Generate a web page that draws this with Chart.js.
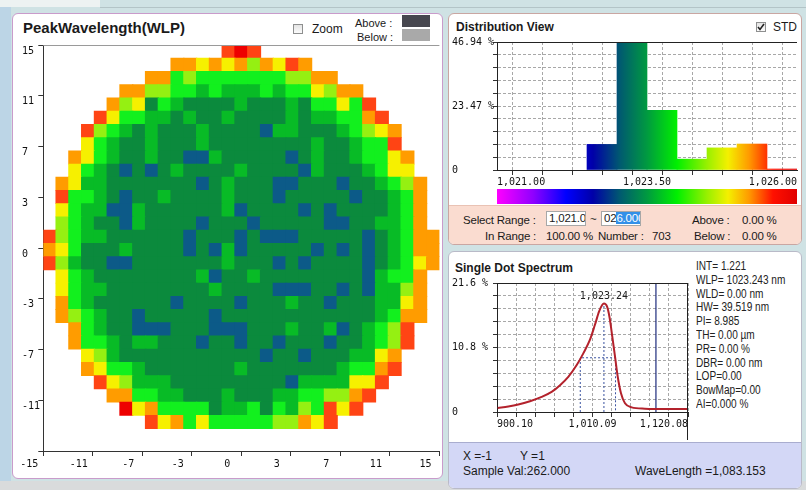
<!DOCTYPE html>
<html>
<head>
<meta charset="utf-8">
<title>PeakWavelength(WLP)</title>
<script src="https://cdn.jsdelivr.net/npm/chart.js@4.4.1/dist/chart.umd.min.js"></script>
<style>
    * { box-sizing: border-box; }
    body {
        margin: 0; width: 806px; height: 490px; position: relative; overflow: hidden;
        background: #cfe2e4; color: #1a1a1a;
        font-family: "Liberation Sans", Arial, sans-serif; font-size: 12px;
    }
    .abs { position: absolute; white-space: nowrap; line-height: 14px; }
    .bold { font-weight: bold; }
    .small { font-size: 11px; }
    .narrow { font-size: 11.5px; letter-spacing: -0.2px; }
    .panel { position: absolute; background: #fff; border-radius: 6px; overflow: hidden; }
    #left-panel { left: 12px; top: 13px; width: 431px; height: 466px; border: 1.5px solid #c99bcb; }
    #dist-panel { left: 448px; top: 13px; width: 354px; height: 232px; border: 1px solid #c9a6a2; }
    #spec-panel { left: 448px; top: 251px; width: 354px; height: 238px; border: 1px solid #b9bac8; }
    #dist-panel .foot { position: absolute; left: 0; right: 0; top: 191px; bottom: 0; background: #fadcd0; border-top: 1px solid #e9c2b4; }
    #spec-panel .foot { position: absolute; left: 0; right: 0; top: 190px; bottom: 0; background: #d3d7f6; border-top: 1px solid #a9adcf; }
    canvas { position: absolute; }
    .box { position: absolute; width: 10px; height: 10px; border: 1px solid #8e8f8f; background: linear-gradient(#e4e4e4, #fbfbfb); }
    .swatch { position: absolute; width: 28px; height: 12px; }
    .field { position: absolute; height: 15px; width: 40px; background: #fff; border: 1px solid #a7a7a7; overflow: hidden; padding-left: 2px; line-height: 13px; white-space: nowrap; font-size: 11.5px; letter-spacing: -0.2px; }
    .field .sel { background: #3390e8; color: #fff; }
    #colorBar { position: absolute; left: 497px; top: 189px; width: 300px; height: 15px; }
    #info {
        position: absolute; left: 696px; top: 260px; line-height: 13.8px; white-space: nowrap;
        font-size: 12px; color: #222; transform: scaleX(0.84); transform-origin: 0 0;
    }
</style>
</head>
<body>
<div class="abs" style="left:0;top:0;width:11px;height:490px;background:#bcd5e6"></div>
<div class="abs" style="left:0;top:0;width:100px;height:7px;background:#edf2f2"></div>
<div class="abs" style="left:100px;top:7px;width:706px;height:1px;background:#b3c4c7"></div>
<div class="abs" style="left:0;top:481px;width:806px;height:9px;background:#d9dbdc"></div>

<div class="panel" id="left-panel"></div>
<div class="panel" id="dist-panel"><div class="foot"></div></div>
<div class="panel" id="spec-panel"><div class="foot"></div></div>

<!-- wafer map header -->
<div class="abs bold" style="left:23px;top:19px;font-size:15px;line-height:18px">PeakWavelength(WLP)</div>
<div class="box" style="left:293px;top:24px"></div>
<div class="abs" style="left:312px;top:22px">Zoom</div>
<div class="abs small" style="left:355px;top:16px">Above :</div>
<div class="abs small" style="left:357px;top:30px">Below :</div>
<div class="swatch" style="left:402px;top:15px;background:#46464e"></div>
<div class="swatch" style="left:402px;top:29px;background:#a9a9a9"></div>

<!-- distribution header and range info -->
<div class="abs bold" style="left:456px;top:20px">Distribution View</div>
<div class="box" style="left:756px;top:22px">
    <svg width="8" height="8" style="position:absolute;left:0;top:0"><polyline points="1,4 3,6.5 7,1" fill="none" stroke="#222" stroke-width="1.6"/></svg>
</div>
<div class="abs" style="left:773px;top:20px">STD</div>
<div id="colorBar"></div>

<div class="abs narrow" style="left:463px;top:213px">Select Range :</div>
<div class="field" style="left:546px;top:211px">1,021.00</div>
<div class="abs narrow" style="left:590px;top:212px">~</div>
<div class="field" style="left:601px;top:211px">02<span class="sel">6.000</span></div>
<div class="abs narrow" style="left:692px;top:213px">Above :</div>
<div class="abs narrow" style="left:742px;top:213px">0.00 %</div>
<div class="abs narrow" style="left:485px;top:229px">In Range :</div>
<div class="abs narrow" style="left:546px;top:229px">100.00 %</div>
<div class="abs narrow" style="left:598px;top:229px">Number :</div>
<div class="abs narrow" style="left:652px;top:229px">703</div>
<div class="abs narrow" style="left:694px;top:229px">Below :</div>
<div class="abs narrow" style="left:742px;top:229px">0.00 %</div>

<!-- spectrum header, readout and footer -->
<div class="abs bold" style="left:455px;top:261px">Single Dot Spectrum</div>
<div id="info">
    INT= 1.221<br>WLP= 1023.243 nm<br>WLD= 0.00 nm<br>HW= 39.519 nm<br>PI= 8.985<br>TH= 0.00 µm<br>
    PR= 0.00 %<br>DBR= 0.00 nm<br>LOP=0.00<br>BowMap=0.00<br>AI=0.000 %
</div>
<div class="abs" style="left:463px;top:449px">X =-1</div>
<div class="abs" style="left:520px;top:449px">Y =1</div>
<div class="abs" style="left:463px;top:464px">Sample Val:262.000</div>
<div class="abs" style="left:635px;top:464px">WaveLength =1,083.153</div>

<canvas id="waferChart" width="428" height="437" style="left:14px;top:42px"></canvas>
<canvas id="histChart" width="352" height="156" style="left:449px;top:34px"></canvas>
<canvas id="specChart" width="246" height="164" style="left:449px;top:276px"></canvas>

<script>
// wafer map, one character per die (top row first); '.' = no die
const waferRows = [
    '..............rRr..............',
    '..........ooyoyoloyro..........',
    '........ooglggggggglloo........',
    '......oollggmgmmmgmggyloo......',
    '.....olydgmddddmdddmdggygr.....',
    '....ryggmmdmddmddddmdmmggor....',
    '...rlgmdmdddmddddbmmdddmglyo...',
    '...ygmddmdddmddddddddmddmggr...',
    '..oygmddmddbbmdddddbdmddmggyo..',
    '..ygmdbdbdmddddmddddbmdddmgyy..',
    '.oymmdddddddbdmdddbbdddbddmglo.',
    '.rggmdbddmddddmdddbdddddbddmgo.',
    '.ygmmbbmddddddmbddddbdbddddmgo.',
    '.lgmddbmddddbdddbdddddbbddmmgo.',
    'rlgmmddddddbdddbdbbbdddddbdmgoo',
    'oygdddmddddbdbmbdddddbdbdbdmgoo',
    'rlmddbbdddddddmdddbdbddddbdmgyo',
    '.ygmddddddddmbddmddddddddbmggo.',
    '.ygmmddddddddmddddbbbddbdbmmlo.',
    '.ogmddddddbddddbdddmddbdddmmyo.',
    '.olgmddbdddddbddddddddddddmgoo.',
    '..ogmddbbbdddbbbdddmddmbdmglr..',
    '..oggmdmmdddbddbddbdddbddmglr..',
    '...ylmdddddddddddbddbdddmmyo...',
    '...oyggmdddddddmdddddddmggor...',
    '....rylmmmdddddddddbmmmmyyr....',
    '.....ooggmmdddmdddmmggllor.....',
    '......Ryoggggdmmgdgmlgryr......',
    '........ryogyggggglloyr........'
];
const waferRowSpan = 30.7;       // plot height in die rows
const waferAxisRange = [-15, 15];
const waferTickStep = 3.75;

// distribution of WLP, percent of 703 dies per 0.5 nm bin
const histBinStart = [1022.5, 1023.0, 1023.5, 1024.0, 1024.5, 1025.0, 1025.5];
const histPercent = [9.39, 46.94, 21.91, 3.98, 8.11, 9.53, 0.14];
const histBinWidth = 0.5;
const histRange = [1021, 1026];
const histXLabels = [1021, 1023.5, 1026];
const histYMax = 46.94;
const histYLabels = ['0', '23.47 %', '46.94 %'];

// single dot spectrum
const specWave = [900.9, 913.1, 924.6, 938.1, 951.5, 963.0, 972.7, 982.2, 991.9, 999.5, 1007.2, 1012.9, 1017.6,
    1021.4, 1023.24, 1026.8, 1029.9, 1032.9, 1036.0, 1039.1, 1042.9, 1047.5, 1055.2, 1070.5, 1093.6, 1118.9];
const specValue = [0.67, 0.91, 1.24, 1.80, 2.52, 3.36, 4.49, 5.89, 7.86, 9.82, 12.1, 14.6, 16.8,
    17.95, 18.17, 17.67, 15.7, 12.6, 9.3, 5.94, 3.14, 1.46, 0.78, 0.56, 0.50, 0.50];
const specRange = [900.10, 1120.08];
const specYMax = 21.6;
const specYLabels = ['0', '10.8 %', '21.6 %'];
const peakWave = 1023.24;
const peakValue = 18.17;
const halfWidth = [996.0, 1036.6];
const halfLevel = 9.08;
const cursorWave = 1083.153;

const levelColors = {
    R: '#ee0000', r: '#ff4414', o: '#ff9c00', y: '#f6f000', l: '#95f012',
    g: '#12f01e', m: '#08bb26', d: '#0b8a3d', b: '#0c5a88'
};
const colorStops = [
    [0.00, '#ff00ff'], [0.12, '#9000ff'], [0.23, '#0000ff'], [0.32, '#0000a8'],
    [0.41, '#005a70'], [0.50, '#009a40'], [0.60, '#00f000'], [0.70, '#98f000'],
    [0.77, '#f4f000'], [0.84, '#ff9a00'], [0.92, '#ff1000'], [1.00, '#e00000']
];

Chart.defaults.font.family = '"DejaVu Sans Mono", monospace';
Chart.defaults.font.size = 10;
Chart.defaults.color = '#111';

document.getElementById('colorBar').style.background =
    'linear-gradient(to right, ' + colorStops.map(([f, c]) => c + ' ' + (f * 100) + '%').join(', ') + ')';

const fmt = v => v.toLocaleString('en-US', { minimumFractionDigits: 2, maximumFractionDigits: 2 });

function fitBox(width, height) {
    return scale => {
        if (width != null) scale.width = width;
        if (height != null) scale.height = height;
        scale.paddingLeft = scale.paddingRight = scale.paddingTop = scale.paddingBottom = 0;
    };
}

function evenTicks(min, max, count) {
    return scale => {
        scale.ticks = Array.from({ length: count + 1 }, (_, i) => ({ value: +(min + (max - min) * i / count).toFixed(4) }));
    };
}

const framePlugin = {
    id: 'frame',
    afterDraw(chart, args, opts) {
        const { ctx, chartArea: a } = chart;
        ctx.save();
        ctx.strokeStyle = opts.color;
        ctx.lineWidth = 1;
        ctx.beginPath();
        if (opts.top) { ctx.moveTo(a.left, a.top + 0.5); ctx.lineTo(a.right, a.top + 0.5); }
        if (opts.right) { ctx.moveTo(a.right - 0.5, a.top); ctx.lineTo(a.right - 0.5, a.bottom + opts.rightExtra); }
        ctx.stroke();
        ctx.restore();
    }
};

const base = {
    responsive: false,
    animation: false,
    events: [],
    plugins: { legend: { display: false }, tooltip: { enabled: false } }
};

// ---- wafer map ----
const waferCells = [];
const waferCellColors = [];
waferRows.forEach((row, r) => {
    [...row].forEach((code, c) => {
        if (code === '.') return;
        waferCells.push({ x: c + 0.5, y: r + 0.5 });
        waferCellColors.push(levelColors[code]);
    });
});

new Chart(document.getElementById('waferChart'), {
    type: 'scatter',
    data: {
        datasets: [{
            data: waferCells,
            xAxisID: 'cx',
            yAxisID: 'cy',
            pointStyle: 'rect',
            pointRadius: 9.9,
            pointHoverRadius: 9.9,
            backgroundColor: waferCellColors,
            borderWidth: 0,
            borderColor: 'transparent'
        }]
    },
    options: {
        ...base,
        layout: { autoPadding: false, padding: { left: 8, top: 3, right: 2.6, bottom: 0 } },
        plugins: { ...base.plugins, frame: { color: '#9a9a9a', top: true, right: false, rightExtra: 0 } },
        scales: {
            x: {
                type: 'linear', position: 'bottom', min: waferAxisRange[0], max: waferAxisRange[1],
                ticks: { stepSize: waferTickStep, autoSkip: false, maxRotation: 0, labelOffset: -14, padding: 2,
                    callback: v => String(Math.trunc(v)) },
                grid: { drawOnChartArea: false, tickLength: 5, color: '#333' },
                border: { color: '#333' },
                afterFit: fitBox(null, 28)
            },
            y: {
                type: 'linear', position: 'left', min: waferAxisRange[0], max: waferAxisRange[1],
                ticks: { stepSize: waferTickStep, autoSkip: false, labelOffset: 6, crossAlign: 'far',
                    callback: v => v === waferAxisRange[0] ? '' : String(Math.trunc(v)) },
                grid: { drawOnChartArea: false, tickLength: 5, color: '#333' },
                border: { color: '#333' },
                afterFit: fitBox(21.3, null)
            },
            cx: { axis: 'x', type: 'linear', display: false, min: 0, max: waferRows[0].length },
            cy: { axis: 'y', type: 'linear', display: false, min: 0, max: waferRowSpan, reverse: true }
        }
    },
    plugins: [framePlugin]
});

// ---- distribution histogram ----
function spectrumGradient(ctx) {
    const chart = ctx.chart;
    if (!chart.chartArea) return null;
    const x = chart.scales.x;
    const g = chart.ctx.createLinearGradient(x.getPixelForValue(histRange[0]), 0, x.getPixelForValue(histRange[1]), 0);
    colorStops.forEach(([f, c]) => g.addColorStop(f, c));
    return g;
}

const gridStyle = { color: '#a8a8a8', tickColor: '#333', tickLength: 4 };

new Chart(document.getElementById('histChart'), {
    type: 'bar',
    data: {
        datasets: [{
            data: histBinStart.map((s, i) => ({ x: s + histBinWidth / 2, y: histPercent[i] })),
            backgroundColor: spectrumGradient,
            borderWidth: 0,
            barPercentage: 1,
            categoryPercentage: 1,
            minBarLength: 1
        }]
    },
    options: {
        ...base,
        layout: { autoPadding: false, padding: { left: 3, top: 8, right: 4, bottom: 0 } },
        plugins: { ...base.plugins, frame: { color: '#222', top: true, right: false, rightExtra: 0 } },
        scales: {
            x: {
                type: 'linear', offset: false, min: histRange[0], max: histRange[1],
                afterBuildTicks: evenTicks(histRange[0], histRange[1], 10),
                ticks: { align: 'inner', autoSkip: false, maxRotation: 0, padding: 1,
                    callback: v => histXLabels.includes(v) ? fmt(v) : '' },
                grid: { ...gridStyle, tickLength: 5 },
                border: { color: '#222', dash: [3, 2] },
                afterFit: fitBox(null, 20)
            },
            y: {
                min: 0, max: histYMax,
                afterBuildTicks: evenTicks(0, histYMax, 10),
                ticks: { crossAlign: 'far', autoSkip: false, padding: 2,
                    callback: (v, i) => i % 5 === 0 ? histYLabels[i / 5] : '' },
                grid: gridStyle,
                border: { color: '#222', dash: [3, 2] },
                afterFit: fitBox(45, null)
            }
        }
    },
    plugins: [framePlugin]
});

// ---- single dot spectrum ----
const peakLabel = {
    id: 'peakLabel',
    afterDatasetsDraw(chart) {
        const { ctx, scales: { x, y } } = chart;
        ctx.save();
        ctx.font = '10px "DejaVu Sans Mono"';
        ctx.fillStyle = '#222';
        ctx.textAlign = 'center';
        ctx.textBaseline = 'bottom';
        ctx.fillText(fmt(peakWave), x.getPixelForValue(peakWave), y.getPixelForValue(peakValue) - 2);
        ctx.restore();
    }
};

new Chart(document.getElementById('specChart'), {
    type: 'line',
    data: {
        datasets: [
            {
                data: specWave.map((x, i) => ({ x, y: specValue[i] })),
                borderColor: '#b3222c', borderWidth: 2, pointRadius: 0,
                cubicInterpolationMode: 'monotone', fill: false
            },
            {
                data: [{ x: halfWidth[0], y: 0 }, { x: halfWidth[0], y: halfLevel },
                       { x: halfWidth[1], y: halfLevel }, { x: halfWidth[1], y: 0 }],
                borderColor: '#3a52a0', borderWidth: 1, borderDash: [2, 2], pointRadius: 0, tension: 0
            },
            {
                data: [{ x: peakWave, y: 0 }, { x: peakWave, y: peakValue }],
                borderColor: '#3a52a0', borderWidth: 1, borderDash: [2, 2], pointRadius: 0, tension: 0
            },
            {
                data: [{ x: cursorWave, y: 0 }, { x: cursorWave, y: specYMax }],
                borderColor: '#1d2b7c', borderWidth: 1.2, pointRadius: 0, tension: 0
            }
        ]
    },
    options: {
        ...base,
        layout: { autoPadding: false, padding: { left: 3, top: 7, right: 7, bottom: 0 } },
        plugins: { ...base.plugins, frame: { color: '#222', top: true, right: true, rightExtra: 28 } },
        scales: {
            x: {
                type: 'linear', min: specRange[0], max: specRange[1],
                afterBuildTicks: evenTicks(specRange[0], specRange[1], 10),
                ticks: { align: 'inner', autoSkip: false, maxRotation: 0, padding: 1,
                    callback: (v, i) => i % 5 === 0 ? fmt(v) : '' },
                grid: { ...gridStyle, tickLength: 5 },
                border: { color: '#222', dash: [3, 2] },
                afterFit: fitBox(null, 28)
            },
            y: {
                min: 0, max: specYMax,
                afterBuildTicks: evenTicks(0, specYMax, 10),
                ticks: { crossAlign: 'far', autoSkip: false, padding: 2,
                    callback: (v, i) => i % 5 === 0 ? specYLabels[i / 5] : '' },
                grid: gridStyle,
                border: { color: '#222', dash: [3, 2] },
                afterFit: fitBox(45, null)
            }
        }
    },
    plugins: [framePlugin, peakLabel]
});
</script>
</body>
</html>
